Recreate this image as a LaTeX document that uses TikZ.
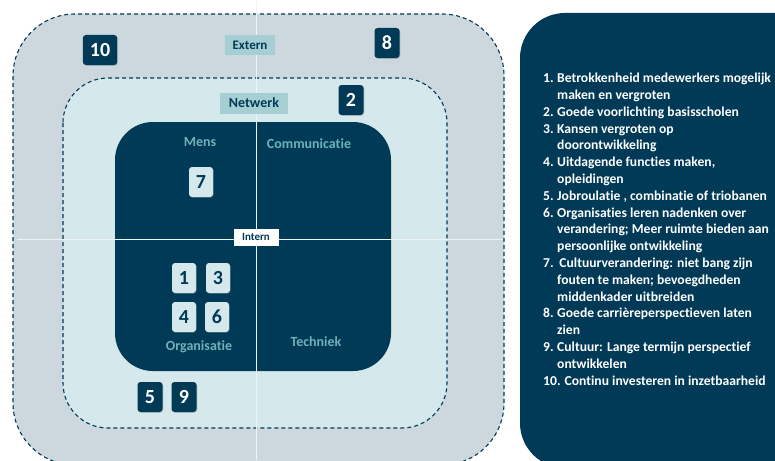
\documentclass[tikz,border=0pt]{standalone}
\usepackage{fontspec}
\setmainfont{Carlito}[Ligatures=NoCommon]
\usetikzlibrary{shadows}
\definecolor{navy}{HTML}{003A57}
\definecolor{buitenvlak}{HTML}{CCD8DE}
\definecolor{netvlak}{HTML}{D5E8EB}
\definecolor{labelvlak}{HTML}{A6CFD3}
\definecolor{kopkleur}{HTML}{6DB2B7}
\definecolor{kruislijn}{HTML}{EDF4F6}
\newcommand{\nr}[1]{\makebox[14pt][l]{#1}}

\begin{document}
\begin{tikzpicture}[x=1pt, y=-1pt,
    zone/.style={draw=navy, line width=1.1pt, dash pattern=on 4pt off 3pt},
    donker/.style={fill=navy, text=white, rounded corners=3pt, minimum width=25pt, minimum height=30pt, inner xsep=7pt, font=\bfseries\fontsize{20}{20}\selectfont, drop shadow={opacity=0.35, shadow xshift=0.8pt, shadow yshift=-0.8pt}},
    licht/.style={fill=netvlak, text=navy, rounded corners=3pt, minimum width=24pt, minimum height=30pt, font=\bfseries\fontsize{20}{20}\selectfont, drop shadow={opacity=0.35, shadow xshift=0.8pt, shadow yshift=-0.8pt}},
    kwadrant/.style={text=kopkleur, font=\bfseries\fontsize{14}{14}\selectfont},
    laag/.style={fill=labelvlak, text=navy, font=\bfseries\fontsize{13}{13}\selectfont, inner sep=0pt, minimum height=20pt}
]
\useasboundingbox (0,0) rectangle (775,460);
\clip (0,0) rectangle (775,460);
\fill[white] (0,0) rectangle (775,460);

% zones
\draw[zone, fill=buitenvlak, rounded corners=62pt] (13,14) rectangle (504,465);
\draw[zone, fill=netvlak, rounded corners=45pt] (63,78) rectangle (447,428);
\fill[navy, rounded corners=38pt] (115,122) rectangle (391,371);

% kruis
\coordinate (boven) at (256,0);
\coordinate (onder) at (256,460);
\coordinate (links) at (17,239);
\coordinate (rechts) at (503,239);
\draw[kruislijn, line width=0.9pt] (boven) -- (onder);
\draw[kruislijn, line width=0.9pt] (links) -- (rechts);

% lagen
\node[laag, minimum width=50pt] (extern) at (250,45) {Extern};
\node[laag, minimum width=68pt, minimum height=21pt, font=\bfseries\fontsize{14}{14}\selectfont] (netwerk) at (254,103) {Netwerk};
\node[fill=white, text=navy, font=\bfseries\fontsize{11}{11}\selectfont, inner sep=0pt, minimum width=45pt, minimum height=17pt] (intern) at (256,237) {Intern};

% kwadranten
\node[kwadrant] (mens) at (200,142) {Mens};
\node[kwadrant] (communicatie) at (309,144) {Communicatie};
\node[kwadrant] (organisatie) at (199,347) {Organisatie};
\node[kwadrant] (techniek) at (316,342) {Techniek};

% maatregelen
\node[donker] (n10) at (100,50) {10};
\node[donker] (n8) at (387,43) {8};
\node[donker] (n2) at (351,100) {2};
\node[donker] (n5) at (150,397) {5};
\node[donker] (n9) at (184,397) {9};
\node[licht] (n7) at (201,182) {7};
\node[licht] (n1) at (184,278) {1};
\node[licht] (n3) at (218,278) {3};
\node[licht] (n4) at (184,317) {4};
\node[licht] (n6) at (217,317) {6};

% legenda
\fill[navy, rounded corners=45pt] (520,13) rectangle (820,468);
\node[anchor=north west, inner sep=0pt, align=left, text=white, font=\bfseries\fontsize{13.6}{16.8}\selectfont] (lijst) at (543,73) {%
\nr{1.}Betrokkenheid medewerkers mogelijk\\
\nr{}maken en vergroten\\
\nr{2.}Goede voorlichting basisscholen\\
\nr{3.}Kansen vergroten op\\
\nr{}doorontwikkeling\\
\nr{4.}Uitdagende functies maken,\\
\nr{}opleidingen\\
\nr{5.}Jobroulatie , combinatie of triobanen\\
\nr{6.}Organisaties leren nadenken over\\
\nr{}verandering; Meer ruimte bieden aan\\
\nr{}persoonlijke ontwikkeling\\
\nr{7.}\,Cultuurverandering: niet bang zijn\\
\nr{}fouten te maken; bevoegdheden\\
\nr{}middenkader uitbreiden\\
\nr{8.}Goede carri\`ereperspectieven laten\\
\nr{}zien\\
\nr{9.}Cultuur: Lange termijn perspectief\\
\nr{}ontwikkelen\\
10. Continu investeren in inzetbaarheid};
\end{tikzpicture}
\end{document}
